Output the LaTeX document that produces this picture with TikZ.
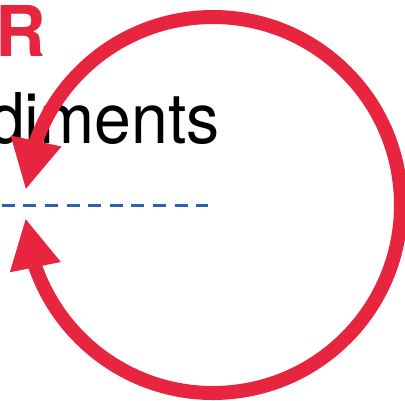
\documentclass[tikz,border=0pt]{standalone}
\usepackage{fontspec}
\setmainfont{TeX Gyre Heros}
\usetikzlibrary{arrows.meta,bending}
\definecolor{loopred}{HTML}{E8253E}
\definecolor{dashblue}{HTML}{2E5FA8}
\tikzset{
  looparrow/.style={draw=loopred, line width=14pt,
    {Triangle[width=48pt,length=50pt,flex]}-{Triangle[width=48pt,length=50pt,flex]}},
  levelline/.style={draw=dashblue, line width=3pt, dash pattern=on 13pt off 8.6pt},
  bigtext/.style={inner sep=0pt, anchor=base west, font=\fontsize{70}{70}\selectfont},
}
\begin{document}
\begin{tikzpicture}[x=1pt,y=-1pt]
\useasboundingbox (0,0) rectangle (405,400);
\node[bigtext, text=loopred, font=\fontsize{70}{70}\selectfont\bfseries] (rlabel) at (-5,56) {R};
\node[bigtext] (sed) at (-12,143) {\scalebox{0.945}[1]{diments}};
\coordinate (lineL) at (1.7,205);
\coordinate (lineR) at (208,205);
\draw[levelline] (lineL) -- (lineR);
\coordinate (c) at (213,205);
\draw[looparrow] ([shift={(176:188)}]c) arc[start angle=176, end angle=-175.4, radius=188];
\end{tikzpicture}
\end{document}
